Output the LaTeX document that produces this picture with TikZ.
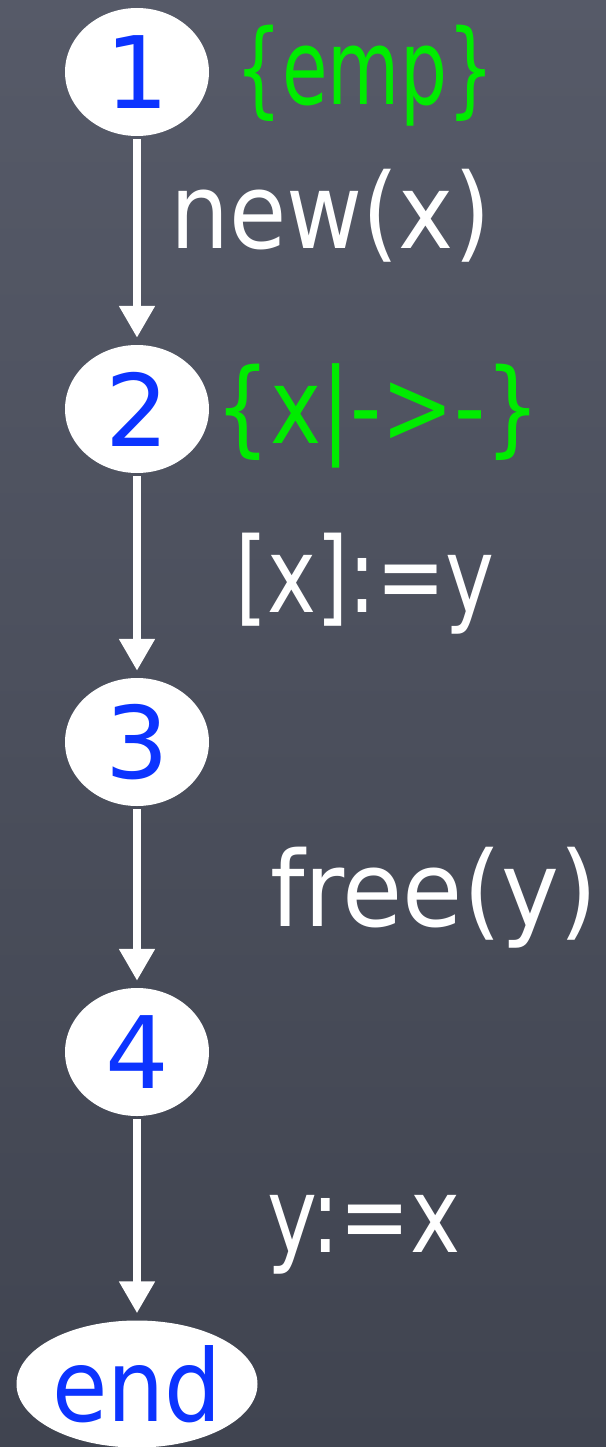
\documentclass[tikz,border=0pt]{standalone}
\usepackage{fontspec}
\setmainfont{DejaVu Sans}
\usetikzlibrary{shapes.geometric,arrows.meta}
\definecolor{bgtop}{RGB}{86,90,104}
\definecolor{bgbot}{RGB}{64,68,80}
\definecolor{nodeblue}{RGB}{12,52,255}
\definecolor{assertgreen}{RGB}{0,236,0}
\tikzset{
  state/.style={ellipse, fill=white, inner sep=0pt, minimum width=144pt, minimum height=128pt,
    text=nodeblue, font=\fontsize{100}{110}\selectfont},
  flow/.style={draw=white, line width=8pt, -{Triangle[width=34pt,length=32pt]}, shorten <=3pt, shorten >=7pt},
  cmd/.style={anchor=base west, inner sep=0pt, text=white, font=\fontsize{95}{100}\selectfont},
  assn/.style={anchor=base west, inner sep=0pt, text=assertgreen, font=\fontsize{95}{100}\selectfont},
}
\begin{document}
\begin{tikzpicture}[x=1pt,y=-1pt]
\useasboundingbox (0,0) rectangle (605,1447);
\shade[top color=bgtop, bottom color=bgbot] (-3,-3) rectangle (608,1450);
\node[state] (n1) at (137,72) {1};
\node[state] (n2) at (137,409) {2};
\node[state] (n3) at (137,742) {3};
\node[state] (n4) at (137,1052) {4};
\node[state, minimum width=241pt, minimum height=127pt] (nend) at (137,1384) {\scalebox{0.9}[1]{end}};
\draw[flow] (n1.south) -- (n2.north);
\draw[flow] (n2.south) -- (n3.north);
\draw[flow] (n3.south) -- (n4.north);
\draw[flow] (n4.south) -- (nend.north);
\node[assn] (a1) at (235,105) {\scalebox{0.78}[1.1]{\{emp\}}};
\node[assn] (a2) at (215,443) {\scalebox{0.91}[1.1]{\{x|->-\}}};
\node[cmd] (c1) at (170,248) {\scalebox{0.98}[1.1]{new(x)}};
\node[cmd] (c2) at (235,612) {\scalebox{0.87}[1.1]{[x]:=y}};
\node[cmd] (c3) at (270,926) {\scalebox{1.03}[1.1]{free(y)}};
\node[cmd] (c4) at (267,1252) {\scalebox{0.89}[1.1]{y:=x}};
\end{tikzpicture}
\end{document}
